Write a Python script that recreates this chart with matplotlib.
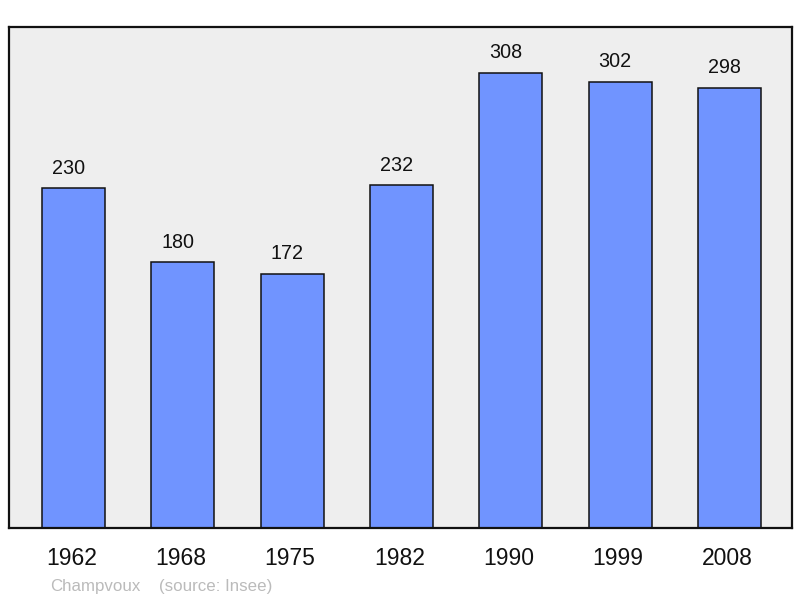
import matplotlib
matplotlib.use("Agg")
import matplotlib.pyplot as plt

years = ["1962", "1968", "1975", "1982", "1990", "1999", "2008"]
population = [230, 180, 172, 232, 308, 302, 298]
place = "Champvoux"
source = "(source: Insee)"

plt.rcParams['font.family'] = ['Liberation Sans', 'DejaVu Sans']

fig = plt.figure(figsize=(8, 5.98), dpi=100)
ax = fig.add_axes([9/800, 70/598, 783/800, 501/598])
ax.set_facecolor("#eeeeee")

x = list(range(len(years)))
ax.bar(x, population, width=0.578, color="#7094ff", edgecolor="#111111", linewidth=1.1, zorder=2)
ax.set_xlim(-0.59, 6.572)
ax.set_ylim(0, 339)

for xi, v in zip(x, population):
    ax.annotate(str(v), (xi, v), xytext=(-3.6, 10.4), textcoords="offset points",
                ha="center", va="baseline", fontsize=14.2, color="#111111")

trans = ax.get_xaxis_transform()
for xi, y in zip(x, years):
    ax.annotate(y, (xi, 0), xycoords=trans, xytext=(-1.5, -26.6), textcoords="offset points",
                ha="center", va="baseline", fontsize=16.5, color="#111111", annotation_clip=False)

ax.set_xticks([])
ax.set_yticks([])
for s in ax.spines.values():
    s.set_linewidth(1.6)
    s.set_color("#111111")

fig.text(50/800, 7/598, place, fontsize=12.2, color="#bbbbbb", va="baseline", ha="left")
fig.text(159/800, 7/598, source, fontsize=12.2, color="#bbbbbb", va="baseline", ha="left")

fig.savefig("out.png", dpi=100)
